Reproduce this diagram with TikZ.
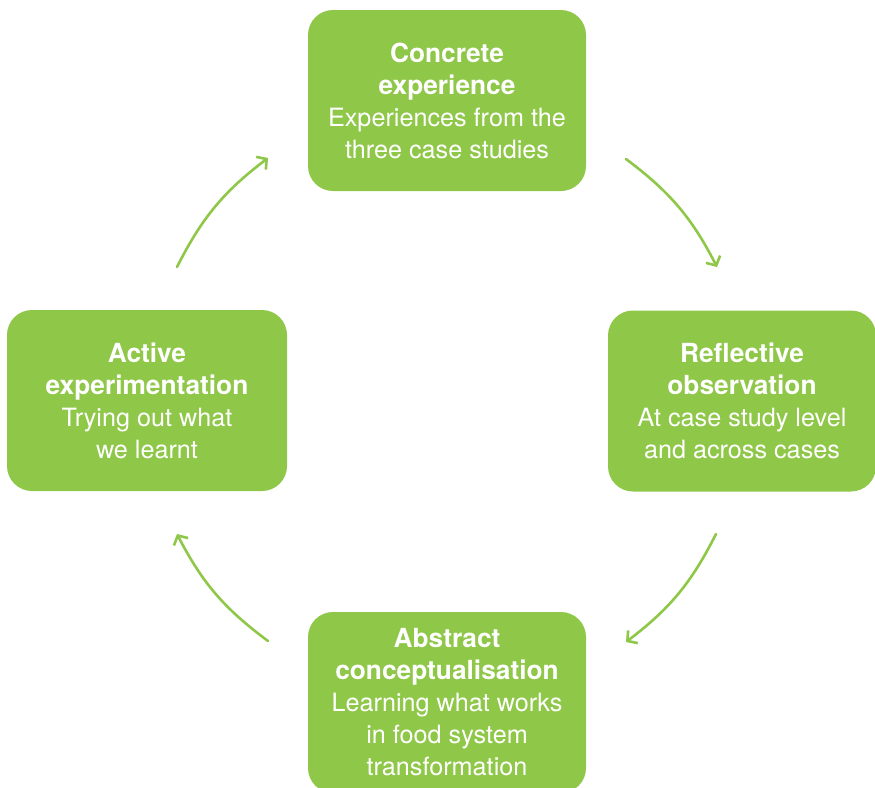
\documentclass[tikz,border=0pt]{standalone}
\usepackage{fontspec}
\setmainfont{TeX Gyre Heros}
\usetikzlibrary{arrows.meta}
\definecolor{leafgreen}{RGB}{143,199,72}
\newcommand{\stagehead}[1]{{\fontsize{26.3}{32}\selectfont\bfseries #1}}

\tikzset{
    stage/.style={fill=leafgreen, text=white, rounded corners=25pt, align=center,
        minimum width=278pt, minimum height=181pt, inner sep=0pt,
        font=\fontsize{25.2}{32}\selectfont},
    cycle/.style={draw=leafgreen, line width=2.6pt, line cap=round,
        -{Straight Barb[length=7pt,width=16pt,line width=2.6pt]}}
}

\begin{document}
\begin{tikzpicture}[x=1pt, y=-1pt]
        \useasboundingbox (0,0) rectangle (875,787);
        % the four stages
        \node[stage] (concrete) at (447,100.5) {\stagehead{Concrete}\\\stagehead{experience}\\Experiences from the\\three case studies};
        \node[stage, minimum width=268pt] (reflective) at (742,401) {\stagehead{Reflective}\\\stagehead{observation}\\At case study level\\and across cases};
        \node[stage] (abstract) at (447,702.5) {\stagehead{Abstract}\\\stagehead{conceptualisation}\\Learning what works\\in food system\\transformation};
        \node[stage, minimum width=280pt] (active) at (147,400.5) {\stagehead{Active}\\\stagehead{experimentation}\\Trying out what\\we learnt};
        % arrow ends
        \coordinate (c1) at (626,159);
        \coordinate (r1) at (717,267);
        \coordinate (r2) at (716,534);
        \coordinate (a1) at (626,642);
        \coordinate (a2) at (268,641);
        \coordinate (e1) at (177,534);
        \coordinate (e2) at (177,267);
        \coordinate (c2) at (268,158);
        \draw[cycle] (c1) to[bend left=13] (r1);
        \draw[cycle] (r2) to[bend left=13] (a1);
        \draw[cycle] (a2) to[bend left=13] (e1);
        \draw[cycle] (e2) to[bend left=13] (c2);
\end{tikzpicture}
\end{document}
